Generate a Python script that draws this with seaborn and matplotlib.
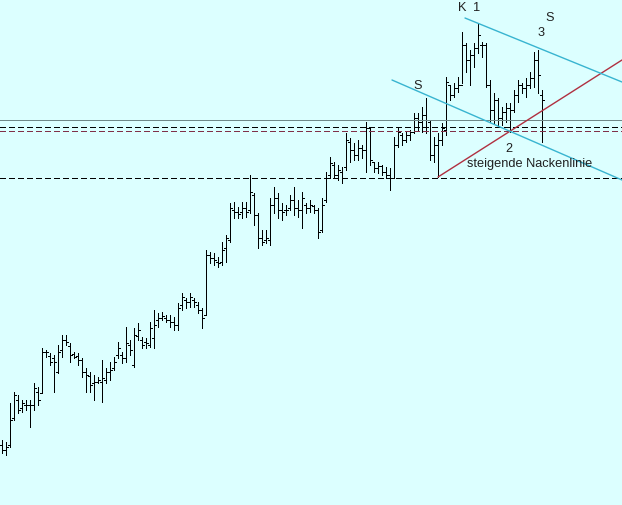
import matplotlib
matplotlib.use("Agg")
import matplotlib.pyplot as plt
import numpy as np
import pandas as pd
import seaborn as sns

# OHLC bars (arbitrary price units, one bar per session)
highs = [65, 63, 102, 113, 110, 105, 105, 105, 122, 118, 157, 155, 152, 150, 160, 170, 170, 162, 153, 152,
         147, 137, 133, 130, 128, 145, 137, 143, 148, 163, 153, 178, 165, 177, 182, 168, 167, 183, 195, 192,
         193, 190, 190, 188, 202, 212, 207, 212, 207, 203, 197, 255, 253, 252, 248, 263, 270, 302, 303, 298,
         303, 303, 330, 312, 292, 275, 275, 307, 318, 312, 302, 300, 310, 318, 305, 313, 302, 305, 300, 297,
         307, 333, 348, 343, 340, 338, 372, 367, 362, 365, 360, 383, 378, 343, 343, 340, 338, 337, 368, 378,
         372, 373, 375, 392, 392, 398, 407, 385, 368, 372, 382, 428, 420, 422, 428, 473, 462, 455, 462, 482,
         463, 462, 425, 412, 407, 398, 402, 402, 415, 425, 422, 427, 433, 453, 455, 415]
lows = [52, 50, 58, 85, 92, 93, 95, 78, 95, 100, 112, 148, 140, 113, 132, 148, 160, 143, 147, 140,
        128, 113, 113, 105, 122, 103, 122, 125, 135, 147, 142, 143, 150, 138, 165, 157, 157, 158, 157, 178,
        185, 183, 178, 175, 175, 195, 197, 198, 198, 192, 177, 190, 242, 240, 238, 240, 243, 263, 287, 287,
        287, 288, 292, 280, 257, 260, 262, 260, 292, 287, 285, 290, 295, 290, 288, 277, 292, 293, 292, 267,
        273, 303, 327, 327, 325, 322, 335, 343, 345, 345, 347, 333, 340, 333, 332, 330, 327, 315, 327, 358,
        360, 363, 365, 372, 375, 373, 372, 345, 343, 328, 360, 370, 405, 408, 413, 422, 433, 420, 438, 452,
        448, 418, 383, 382, 378, 380, 383, 373, 393, 403, 412, 408, 417, 418, 412, 363]
opens = [60, 55, 60, 87, 105, 97, 100, 100, 100, 113, 112, 153, 149, 147, 133, 155, 165, 159, 151, 149,
         145, 133, 129, 122, 123, 123, 125, 133, 137, 150, 150, 147, 160, 140, 169, 165, 163, 160, 167, 185,
         187, 187, 185, 183, 180, 200, 205, 203, 205, 200, 195, 190, 250, 247, 243, 243, 257, 265, 295, 293,
         293, 297, 295, 310, 290, 267, 265, 265, 300, 307, 295, 295, 297, 305, 297, 295, 300, 297, 299, 295,
         275, 305, 330, 340, 330, 333, 338, 363, 355, 350, 357, 355, 377, 343, 337, 339, 333, 330, 327, 360,
         370, 365, 370, 373, 387, 383, 390, 383, 350, 360, 365, 375, 420, 410, 417, 420, 460, 445, 450, 457,
         460, 460, 420, 395, 405, 387, 393, 397, 395, 410, 420, 417, 420, 427, 445, 410]
closes = [55, 58, 85, 110, 95, 102, 100, 100, 117, 105, 153, 153, 143, 143, 153, 165, 163, 150, 148, 145,
          133, 130, 120, 123, 125, 127, 133, 135, 143, 157, 147, 162, 155, 170, 175, 160, 162, 177, 180, 187,
          189, 185, 183, 180, 197, 208, 203, 208, 203, 195, 187, 250, 247, 245, 242, 255, 267, 297, 293, 291,
          297, 293, 313, 290, 267, 263, 267, 300, 307, 295, 293, 295, 305, 297, 295, 307, 297, 300, 295, 273,
          300, 327, 342, 330, 335, 327, 365, 355, 350, 357, 355, 377, 345, 337, 339, 333, 330, 327, 360, 373,
          365, 370, 373, 387, 383, 390, 385, 350, 360, 365, 377, 423, 410, 417, 420, 460, 445, 450, 457, 470,
          460, 420, 395, 405, 387, 393, 397, 395, 410, 420, 417, 420, 427, 445, 430, 405]

# horizontal support / resistance levels
level_solid = 385
levels_dashed_black = [378, 327]
level_dashed_red = 374

# trend lines as (bar index, price) anchor pairs
neckline_x = [109, 155]
neckline_y = [328, 445]
upper_channel_x = [115.75, 155]
upper_channel_y = [487, 423]
lower_channel_x = [97.5, 155]
lower_channel_y = [425, 325]

# pattern labels
label_text = ["K", "1", "S", "3", "S", "2", "steigende Nackenlinie"]
label_x = [115, 118.7, 137, 134.8, 103.9, 126.8, 132]
label_y = [497, 497, 487, 472, 419, 356, 341]

BG = "#dcffff"
PX = 0.72  # one pixel at dpi 100

sns.set_style("white")
plt.rcParams["font.family"] = ["Liberation Sans", "DejaVu Sans"]

df = pd.DataFrame({"high": highs, "low": lows, "open": opens, "close": closes})
df["bar"] = np.arange(len(df))

fig = plt.figure(figsize=(6.22, 5.05), dpi=100, facecolor=BG)
ax = fig.add_axes([0, 0, 1, 1])
ax.set_facecolor(BG)

# OHLC bars, drawn crisp like the old charting software
tick = 0.5
ax.vlines(df["bar"], df["low"], df["high"], color="black", lw=PX, antialiased=False)
ax.hlines(df["open"], df["bar"] - tick, df["bar"], color="black", lw=PX, antialiased=False)
ax.hlines(df["close"], df["bar"], df["bar"] + tick, color="black", lw=PX, antialiased=False)

# horizontal levels
dash = (0, (5.5, 3))
ax.axhline(level_solid, color="#708888", lw=PX, antialiased=False)
for lv in levels_dashed_black:
    ax.axhline(lv, color="black", lw=PX, ls=dash, antialiased=False)
ax.axhline(level_dashed_red, color="#803048", lw=PX, ls=dash, antialiased=False)

# trend lines
sns.lineplot(x=neckline_x, y=neckline_y, ax=ax, color="#b03040", lw=1.0)
sns.lineplot(x=upper_channel_x, y=upper_channel_y, ax=ax, color="#38b4d0", lw=1.0)
sns.lineplot(x=lower_channel_x, y=lower_channel_y, ax=ax, color="#38b4d0", lw=1.0)

for t, x, y in zip(label_text, label_x, label_y):
    ax.text(x, y, t, ha="center", va="center", fontsize=9.2, color="#202020")

ax.set_xlim(-0.5, 155)
ax.set_ylim(0, 505)
ax.set_axis_off()

fig.savefig("out.png", dpi=100, facecolor=BG)
